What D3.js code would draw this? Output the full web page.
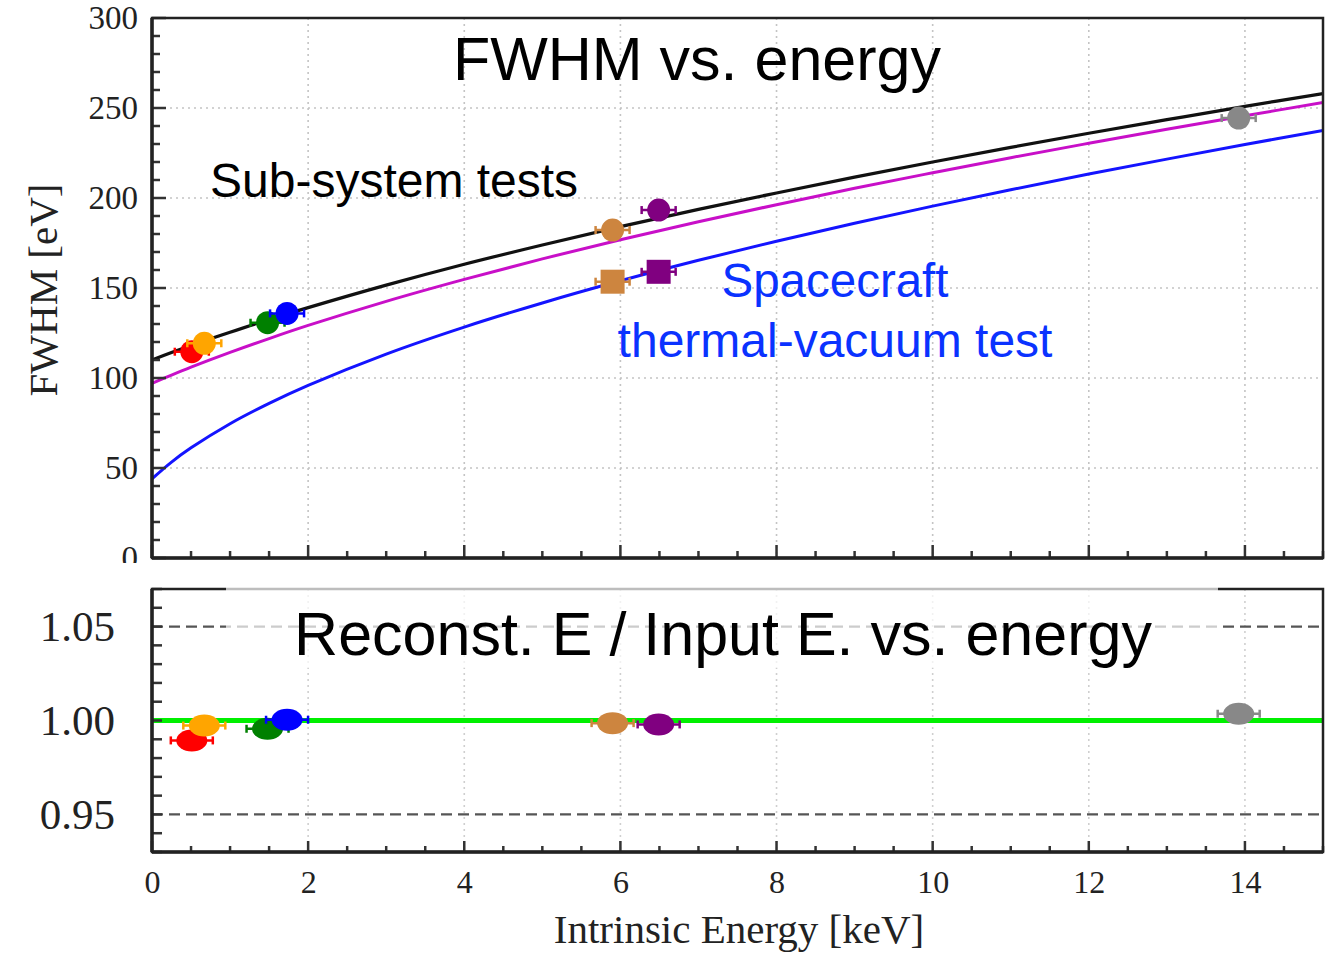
<!DOCTYPE html>
<html>
<head>
<meta charset="utf-8">
<script src="https://cdn.jsdelivr.net/npm/d3@7"></script>
<style>
  body { margin: 0; background: #fff; }
  svg { display: block; }
</style>
</head>
<body>
<svg id="chart" width="1339" height="953"></svg>
<script>
// Fitted resolution curves, sampled along the energy axis [keV] -> FWHM [eV]
const curveEnergy   = [0, 0.25, 0.5, 1, 1.5, 2, 3, 4, 5, 6, 7, 8, 9, 10, 11, 12, 13, 14, 15];
const fitSubsystem  = [110, 114.1, 118.0, 125.4, 132.5, 139.1, 151.6, 163.2, 173.9, 184.1, 193.7, 202.8, 211.6, 220.0, 228.1, 236.0, 243.5, 250.9, 258.0];
const fitMid        = [97, 101.6, 106.0, 114.2, 121.9, 129.2, 142.6, 154.8, 166.2, 176.8, 186.8, 196.3, 205.4, 214.0, 222.4, 230.4, 238.2, 245.7, 253.0];
const fitSpacecraft = [44, 53.3, 61.2, 74.6, 85.9, 95.9, 113.3, 128.3, 141.7, 154.0, 165.4, 176.0, 186.0, 195.5, 204.6, 213.3, 221.6, 229.7, 237.5];

// Calibration lines: energy [keV], colour, measured FWHM [eV], reconstructed/input energy ratio
const lineEnergy    = [0.51, 0.67, 1.48, 1.73, 5.9, 6.49, 13.92];
const lineColor     = ["#ff0000", "#ffa500", "#008000", "#0000ff", "#cd853f", "#800080", "#888888"];
const fwhmSubsystem = [114.6, 119.3, 130.7, 135.9, 182.2, 193.3, 244.4];
const gainRatio     = [0.9894, 0.9973, 0.9956, 1.0004, 0.9986, 0.9979, 1.0036];

// Spacecraft thermal-vacuum test lines
const scEnergy      = [5.9, 6.49];
const scColor       = ["#cd853f", "#800080"];
const fwhmSc        = [153.5, 159.0];

// Axis ticks
const xMajorTicks   = [0, 2, 4, 6, 8, 10, 12, 14];
const fwhmTicks     = [0, 50, 100, 150, 200, 250, 300];
const ratioTicks    = [0.95, 1.00, 1.05];

const svg = d3.select("#chart");
const L = 152, R = 1323;
const top1 = 18, bot1 = 558;
const top2 = 589, bot2 = 852;

const x  = d3.scaleLinear().domain([0, 15]).range([L, R]);
const y1 = d3.scaleLinear().domain([0, 300]).range([bot1, top1]);
const y2 = d3.scaleLinear().domain([0.93, 1.07]).range([bot2, top2]);

const serif = "'Liberation Serif', 'Times New Roman', serif";
const sans  = "'Liberation Sans', Arial, Helvetica, sans-serif";

const defs = svg.append("defs");
defs.append("clipPath").attr("id", "clip1").append("rect")
  .attr("x", L).attr("y", top1).attr("width", R - L).attr("height", bot1 - top1);
// label clip, in the axis group's own (translated) coordinates
defs.append("clipPath").attr("id", "clipLab1").append("rect")
  .attr("x", -L).attr("y", 0).attr("width", L).attr("height", 563);

// ---------- Top panel: FWHM vs energy ----------
const g1 = svg.append("g");

// dotted grid
g1.append("g").selectAll("line").data(xMajorTicks.filter(d => d > 0))
  .join("line")
  .attr("x1", d => x(d)).attr("x2", d => x(d))
  .attr("y1", top1).attr("y2", bot1)
  .attr("stroke", "#c4c4c4").attr("stroke-width", 1.6).attr("stroke-dasharray", "2,4");
g1.append("g").selectAll("line").data(fwhmTicks.filter(d => d > 0 && d < 300))
  .join("line")
  .attr("x1", L).attr("x2", R)
  .attr("y1", d => y1(d)).attr("y2", d => y1(d))
  .attr("stroke", "#c4c4c4").attr("stroke-width", 1.6).attr("stroke-dasharray", "2,4");

// fit curves
const curveLine = (yScale, vals) => d3.line()
  .x((d, i) => x(curveEnergy[i]))
  .y((d, i) => yScale(vals[i]))
  .curve(d3.curveCatmullRom.alpha(0.5))(vals);

const curves = g1.append("g").attr("clip-path", "url(#clip1)");
curves.append("path").attr("d", curveLine(y1, fitSpacecraft))
  .attr("fill", "none").attr("stroke", "#1414ff").attr("stroke-width", 3);
curves.append("path").attr("d", curveLine(y1, fitMid))
  .attr("fill", "none").attr("stroke", "#c80fc8").attr("stroke-width", 3);
curves.append("path").attr("d", curveLine(y1, fitSubsystem))
  .attr("fill", "none").attr("stroke", "#111").attr("stroke-width", 3.2);

// error bar helper (horizontal bar with small end caps)
function errBar(g, cx, cy, color, half) {
  g.append("line").attr("x1", cx - half).attr("x2", cx + half)
    .attr("y1", cy).attr("y2", cy).attr("stroke", color).attr("stroke-width", 2.5);
  [cx - half, cx + half].forEach(ex => {
    g.append("line").attr("x1", ex).attr("x2", ex)
      .attr("y1", cy - 4).attr("y2", cy + 4).attr("stroke", color).attr("stroke-width", 2.5);
  });
}

// sub-system test points (circles)
const pts1 = g1.append("g");
lineEnergy.forEach((e, i) => {
  const cx = x(e), cy = y1(fwhmSubsystem[i]);
  errBar(pts1, cx, cy, lineColor[i], 17);
  pts1.append("circle").attr("cx", cx).attr("cy", cy).attr("r", 11.5).attr("fill", lineColor[i]);
});
// spacecraft points (squares)
scEnergy.forEach((e, i) => {
  const cx = x(e), cy = y1(fwhmSc[i]);
  errBar(pts1, cx, cy, scColor[i], 17);
  pts1.append("rect").attr("x", cx - 12).attr("y", cy - 12)
    .attr("width", 24).attr("height", 24).attr("fill", scColor[i]);
});

// y ticks (inside), minor every 10, major every 50
g1.append("g").selectAll("line").data(d3.range(0, 301, 10))
  .join("line")
  .attr("x1", L).attr("x2", d => L + (d % 50 === 0 ? 14 : 8))
  .attr("y1", d => y1(d)).attr("y2", d => y1(d))
  .attr("stroke", "#333").attr("stroke-width", 2.5);
// x ticks (inside), minor every 0.5, major every 2
g1.append("g").selectAll("line").data(d3.range(0, 15.01, 0.5))
  .join("line")
  .attr("x1", d => x(d)).attr("x2", d => x(d))
  .attr("y1", bot1).attr("y2", d => bot1 - (d % 2 === 0 ? 13 : 7))
  .attr("stroke", "#333").attr("stroke-width", 2.5);

// frame
g1.append("rect").attr("x", L).attr("y", top1).attr("width", R - L).attr("height", bot1 - top1)
  .attr("fill", "none").attr("stroke", "#222").attr("stroke-width", 2.5);
g1.append("line").attr("x1", L).attr("x2", L).attr("y1", top1).attr("y2", bot1)
  .attr("stroke", "#222").attr("stroke-width", 3.5);
g1.append("line").attr("x1", L).attr("x2", R).attr("y1", bot1).attr("y2", bot1)
  .attr("stroke", "#222").attr("stroke-width", 3.5);

// y tick labels through a d3 axis
const axY1 = d3.axisLeft(y1).tickValues(fwhmTicks).tickSize(0).tickPadding(14).tickFormat(d3.format("d"));
const gy1 = g1.append("g").attr("transform", `translate(${L},0)`).attr("clip-path", "url(#clipLab1)").call(axY1);
gy1.select(".domain").remove();
gy1.selectAll("text").attr("font-family", serif).attr("font-size", 33).attr("fill", "#222");

// y axis title
g1.append("text")
  .attr("transform", `translate(57,290) rotate(-90)`)
  .attr("text-anchor", "middle")
  .attr("font-family", serif).attr("font-size", 41).attr("fill", "#222")
  .text("FWHM [eV]");

// annotations
g1.append("text").attr("x", 697).attr("y", 80).attr("text-anchor", "middle")
  .attr("font-family", sans).attr("font-size", 61).attr("fill", "#000")
  .text("FWHM vs. energy");
g1.append("text").attr("x", 210).attr("y", 197)
  .attr("font-family", sans).attr("font-size", 48).attr("fill", "#000")
  .text("Sub-system tests");
g1.append("text").attr("x", 835).attr("y", 297).attr("text-anchor", "middle")
  .attr("font-family", sans).attr("font-size", 47.5).attr("fill", "#0a32ff")
  .text("Spacecraft");
g1.append("text").attr("x", 835).attr("y", 357).attr("text-anchor", "middle")
  .attr("font-family", sans).attr("font-size", 48).attr("fill", "#0a32ff")
  .text("thermal-vacuum test");

// ---------- Bottom panel: reconstructed / input energy ----------
const g2 = svg.append("g");

g2.append("g").selectAll("line").data(xMajorTicks.filter(d => d > 0))
  .join("line")
  .attr("x1", d => x(d)).attr("x2", d => x(d))
  .attr("y1", top2).attr("y2", bot2)
  .attr("stroke", "#cfcfcf").attr("stroke-width", 1.6).attr("stroke-dasharray", "2,4");

// reference dashed lines at +/-5 %
g2.append("g").selectAll("line").data([0.95, 1.05])
  .join("line")
  .attr("x1", L).attr("x2", R)
  .attr("y1", d => y2(d)).attr("y2", d => y2(d))
  .attr("stroke", "#555").attr("stroke-width", 2.2).attr("stroke-dasharray", "11,6");

// unity line
g2.append("line").attr("x1", L).attr("x2", R)
  .attr("y1", y2(1.0)).attr("y2", y2(1.0))
  .attr("stroke", "#00f000").attr("stroke-width", 5);

// ratio points
const pts2 = g2.append("g");
lineEnergy.forEach((e, i) => {
  const cx = x(e), cy = y2(gainRatio[i]);
  errBar(pts2, cx, cy, lineColor[i], 21);
  pts2.append("ellipse").attr("cx", cx).attr("cy", cy).attr("rx", 15.5).attr("ry", 11).attr("fill", lineColor[i]);
});

// ticks
g2.append("g").selectAll("line").data(d3.range(0.93, 1.0701, 0.01))
  .join("line")
  .attr("x1", L).attr("x2", L + 10)
  .attr("y1", d => y2(d)).attr("y2", d => y2(d))
  .attr("stroke", "#333").attr("stroke-width", 2.5);
g2.append("g").selectAll("line").data(d3.range(0, 15.01, 0.5))
  .join("line")
  .attr("x1", d => x(d)).attr("x2", d => x(d))
  .attr("y1", bot2).attr("y2", d => bot2 - (d % 2 === 0 ? 11 : 6))
  .attr("stroke", "#333").attr("stroke-width", 2.5);

// frame
g2.append("rect").attr("x", L).attr("y", top2).attr("width", R - L).attr("height", bot2 - top2)
  .attr("fill", "none").attr("stroke", "#222").attr("stroke-width", 2.5);
g2.append("line").attr("x1", L).attr("x2", L).attr("y1", top2).attr("y2", bot2)
  .attr("stroke", "#222").attr("stroke-width", 3.5);
g2.append("line").attr("x1", L).attr("x2", R).attr("y1", bot2).attr("y2", bot2)
  .attr("stroke", "#222").attr("stroke-width", 3.5);

// translucent backing behind the panel title
g2.append("rect").attr("x", 226).attr("y", 582).attr("width", 992).attr("height", 86)
  .attr("fill", "#fff").attr("opacity", 0.7);
g2.append("text").attr("x", 723).attr("y", 655).attr("text-anchor", "middle")
  .attr("font-family", sans).attr("font-size", 61).attr("fill", "#000")
  .text("Reconst. E / Input E. vs. energy");

// y tick labels
const axY2 = d3.axisLeft(y2).tickValues(ratioTicks).tickSize(0).tickPadding(37).tickFormat(d3.format(".2f"));
const gy2 = g2.append("g").attr("transform", `translate(${L},0)`).call(axY2);
gy2.select(".domain").remove();
gy2.selectAll("text").attr("font-family", serif).attr("font-size", 43).attr("fill", "#222");

// x tick labels
const axX = d3.axisBottom(x).tickValues(xMajorTicks).tickSize(0).tickPadding(18).tickFormat(d3.format("d"));
const gx = g2.append("g").attr("transform", `translate(0,${bot2})`).call(axX);
gx.select(".domain").remove();
gx.selectAll("text").attr("font-family", serif).attr("font-size", 32).attr("fill", "#222");

// x axis title
g2.append("text").attr("x", 739).attr("y", 943).attr("text-anchor", "middle")
  .attr("font-family", serif).attr("font-size", 41).attr("fill", "#222")
  .text("Intrinsic Energy [keV]");
</script>
</body>
</html>
